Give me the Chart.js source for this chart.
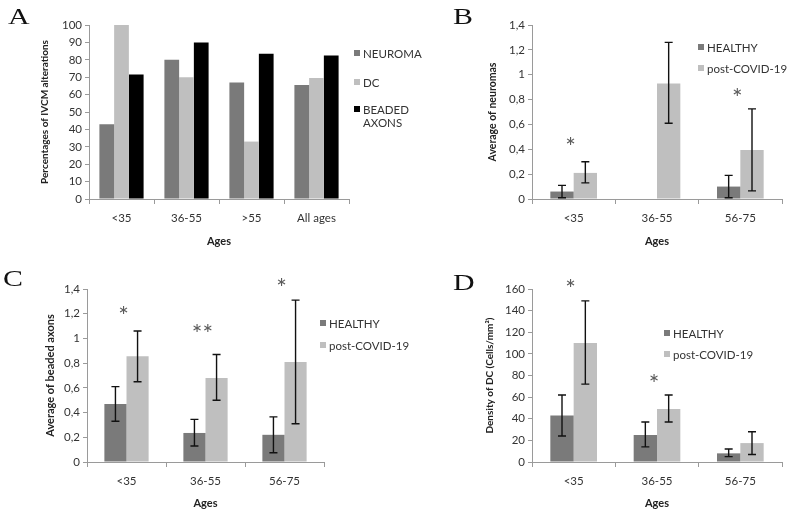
<!DOCTYPE html>
<html>
<head>
<meta charset="utf-8">
<script src="https://cdn.jsdelivr.net/npm/chart.js@4.4.0/dist/chart.umd.min.js"></script>
<style>
body{margin:0;width:789px;height:517px;background:#fff;position:relative;overflow:hidden;font-family:Lato,sans-serif}
canvas{position:absolute}
.letter{position:absolute;font-family:"Liberation Serif",serif;font-size:23px;line-height:22px;transform-origin:left top;transform:scaleX(1.3);color:#111}
.leg{position:absolute;font-size:11.5px;color:#333;line-height:13px;white-space:nowrap}
.leg i{position:absolute;left:-9px;top:3px;width:6px;height:6px}
</style>
</head>
<body>
<canvas id="chartA" width="400" height="250" style="left:0;top:0"></canvas>
<canvas id="chartB" width="389" height="250" style="left:400px;top:0"></canvas>
<canvas id="chartC" width="400" height="259" style="left:0;top:258px"></canvas>
<canvas id="chartD" width="389" height="259" style="left:400px;top:258px"></canvas>

<div class="letter" style="left:8px;top:6px">A</div>
<div class="letter" style="left:453px;top:6px">B</div>
<div class="letter" style="left:3px;top:268px">C</div>
<div class="letter" style="left:453px;top:272px">D</div>

<div class="leg" style="left:363px;top:47px"><i style="background:#7a7a7a"></i>NEUROMA</div>
<div class="leg" style="left:363px;top:76px"><i style="background:#bfbfbf"></i>DC</div>
<div class="leg" style="left:363px;top:103px"><i style="background:#000"></i>BEADED<br>AXONS</div>

<div class="leg" style="left:707px;top:41px"><i style="background:#7a7a7a"></i>HEALTHY</div>
<div class="leg" style="left:707px;top:62px"><i style="background:#bfbfbf"></i>post-COVID-19</div>

<div class="leg" style="left:329px;top:317px"><i style="background:#7a7a7a"></i>HEALTHY</div>
<div class="leg" style="left:329px;top:339px"><i style="background:#bfbfbf"></i>post-COVID-19</div>

<div class="leg" style="left:673px;top:327px"><i style="background:#7a7a7a"></i>HEALTHY</div>
<div class="leg" style="left:673px;top:348px"><i style="background:#bfbfbf"></i>post-COVID-19</div>

<script>
// A: percentages of IVCM alterations
const agesA = ['<35', '36-55', '>55', 'All ages'];
const neuromaPct = [43, 80, 67, 65.5];
const dcPct = [100, 70, 33, 69.5];
const beadedPct = [71.5, 90, 83.5, 82.5];

const ages = ['<35', '36-55', '56-75'];

// B: average of neuromas
const neuromaHealthy = [0.06, 0, 0.1];
const neuromaHealthyLo = [0.01, 0, 0.01];
const neuromaHealthyHi = [0.11, 0, 0.19];
const neuromaCovid = [0.21, 0.93, 0.395];
const neuromaCovidLo = [0.13, 0.61, 0.065];
const neuromaCovidHi = [0.30, 1.26, 0.725];
const neuromaStars = ['*', '', '*'];
const neuromaStarY = [0.46, null, 0.855];

// C: average of beaded axons
const beadedHealthy = [0.47, 0.235, 0.22];
const beadedHealthyLo = [0.33, 0.13, 0.075];
const beadedHealthyHi = [0.61, 0.345, 0.365];
const beadedCovid = [0.855, 0.68, 0.81];
const beadedCovidLo = [0.65, 0.50, 0.31];
const beadedCovidHi = [1.06, 0.87, 1.31];
const beadedStars = ['*', '**', '*'];
const beadedStarY = [1.22, 1.08, 1.45];

// D: density of DC
const dcHealthy = [43, 25, 8];
const dcHealthyLo = [24, 14, 5];
const dcHealthyHi = [62, 37, 12];
const dcCovid = [110, 49, 17.5];
const dcCovidLo = [72, 37, 7];
const dcCovidHi = [149, 62, 28];
const dcStars = ['*', '*', ''];
const dcStarY = [165, 77, null];

const DARK = '#7a7a7a', LIGHT = '#bfbfbf', AXIS = '#9a9a9a';

const extras = {
    id: 'extras',
    afterDatasetsDraw(chart, args, opts) {
        const ctx = chart.ctx;
        const xs = chart.scales.x, ys = chart.scales.y;
        ctx.save();
        ctx.strokeStyle = '#111';
        ctx.lineWidth = 1.4;
        chart.data.datasets.forEach((ds, di) => {
            if (!ds.errLo) return;
            chart.getDatasetMeta(di).data.forEach((bar, i) => {
                if (ds.errLo[i] === ds.errHi[i]) return;
                const top = ys.getPixelForValue(ds.errHi[i]);
                const bot = ys.getPixelForValue(ds.errLo[i]);
                ctx.beginPath();
                ctx.moveTo(bar.x, top); ctx.lineTo(bar.x, bot);
                ctx.moveTo(bar.x - 4, top); ctx.lineTo(bar.x + 4, top);
                ctx.moveTo(bar.x - 4, bot); ctx.lineTo(bar.x + 4, bot);
                ctx.stroke();
            });
        });
        if (opts.stars) {
            ctx.fillStyle = '#5a5a5a';
            ctx.font = '25px Lato';
            ctx.textAlign = 'center';
            ctx.textBaseline = 'middle';
            opts.stars.forEach((s, i) => {
                if (!s) return;
                ctx.fillText(s, xs.getPixelForValue(i) - 3, ys.getPixelForValue(opts.starY[i]) + 6);
            });
        }
        ctx.restore();
    }
};

const comma = v => (Math.round(v * 10) / 10).toString().replace('.', ',');

function panel(id, labels, datasets, cfg) {
    new Chart(document.getElementById(id), {
        type: 'bar',
        data: { labels: labels, datasets: datasets },
        plugins: [extras],
        options: {
            responsive: false,
            animation: false,
            layout: { padding: cfg.pad },
            datasets: { bar: { categoryPercentage: cfg.cat, barPercentage: 1 } },
            plugins: {
                legend: { display: false },
                tooltip: { enabled: false },
                extras: { stars: cfg.stars, starY: cfg.starY }
            },
            scales: {
                x: {
                    afterFit: s => { s.height = cfg.xH; },
                    grid: { drawOnChartArea: false, tickLength: 5, color: AXIS, offset: true },
                    border: { color: AXIS },
                    ticks: { color: '#333', padding: 7, maxRotation: 0, autoSkip: false, font: { family: 'Lato', size: 11.5 } },
                    title: { display: true, text: 'Ages', color: '#222', padding: { top: 0, bottom: cfg.pb }, font: { family: 'Lato', size: 11, weight: 'bold' } }
                },
                y: {
                    min: 0,
                    max: cfg.max,
                    afterFit: s => { s.width = cfg.yW; },
                    grid: { drawOnChartArea: false, tickLength: 4, color: AXIS },
                    border: { color: AXIS },
                    ticks: { stepSize: cfg.step, color: '#333', padding: 3, callback: cfg.fmt, font: { family: 'Lato', size: 11.5 } },
                    title: { display: true, text: cfg.yTitle, color: '#222', padding: { top: 0, bottom: 0 }, font: { family: 'Lato', size: cfg.ySize, weight: 'bold' } }
                }
            }
        }
    });
}

panel('chartA', agesA, [
    { label: 'NEUROMA', data: neuromaPct, backgroundColor: DARK },
    { label: 'DC', data: dcPct, backgroundColor: LIGHT },
    { label: 'BEADED AXONS', data: beadedPct, backgroundColor: '#000' }
], { pad: { left: 39, top: 25, right: 51, bottom: 0 }, yW: 50, xH: 51, pb: 2, cat: 0.68, max: 100, step: 10,
     fmt: v => v, yTitle: 'Percentages of IVCM alterations', ySize: 10 });

panel('chartB', ages, [
    { label: 'HEALTHY', data: neuromaHealthy, errLo: neuromaHealthyLo, errHi: neuromaHealthyHi, backgroundColor: DARK },
    { label: 'post-COVID-19', data: neuromaCovid, errLo: neuromaCovidLo, errHi: neuromaCovidHi, backgroundColor: LIGHT }
], { pad: { left: 86, top: 25, right: 7, bottom: 0 }, yW: 46, xH: 51, pb: 2, cat: 0.56, max: 1.4, step: 0.2,
     fmt: comma, yTitle: 'Average of neuromas', ySize: 10.5, stars: neuromaStars, starY: neuromaStarY });

panel('chartC', ages, [
    { label: 'HEALTHY', data: beadedHealthy, errLo: beadedHealthyLo, errHi: beadedHealthyHi, backgroundColor: DARK },
    { label: 'post-COVID-19', data: beadedCovid, errLo: beadedCovidLo, errHi: beadedCovidHi, backgroundColor: LIGHT }
], { pad: { left: 44, top: 31, right: 76, bottom: 5 }, yW: 43, xH: 50, pb: 2, cat: 0.56, max: 1.4, step: 0.2,
     fmt: comma, yTitle: 'Average of beaded axons', ySize: 11, stars: beadedStars, starY: beadedStarY });

panel('chartD', ages, [
    { label: 'HEALTHY', data: dcHealthy, errLo: dcHealthyLo, errHi: dcHealthyHi, backgroundColor: DARK },
    { label: 'post-COVID-19', data: dcCovid, errLo: dcCovidLo, errHi: dcCovidHi, backgroundColor: LIGHT }
], { pad: { left: 84, top: 31, right: 7, bottom: 5 }, yW: 48, xH: 50, pb: 2, cat: 0.56, max: 160, step: 20,
     fmt: v => v, yTitle: 'Density of DC (Cells/mm²)', ySize: 10, stars: dcStars, starY: dcStarY });
</script>
</body>
</html>
